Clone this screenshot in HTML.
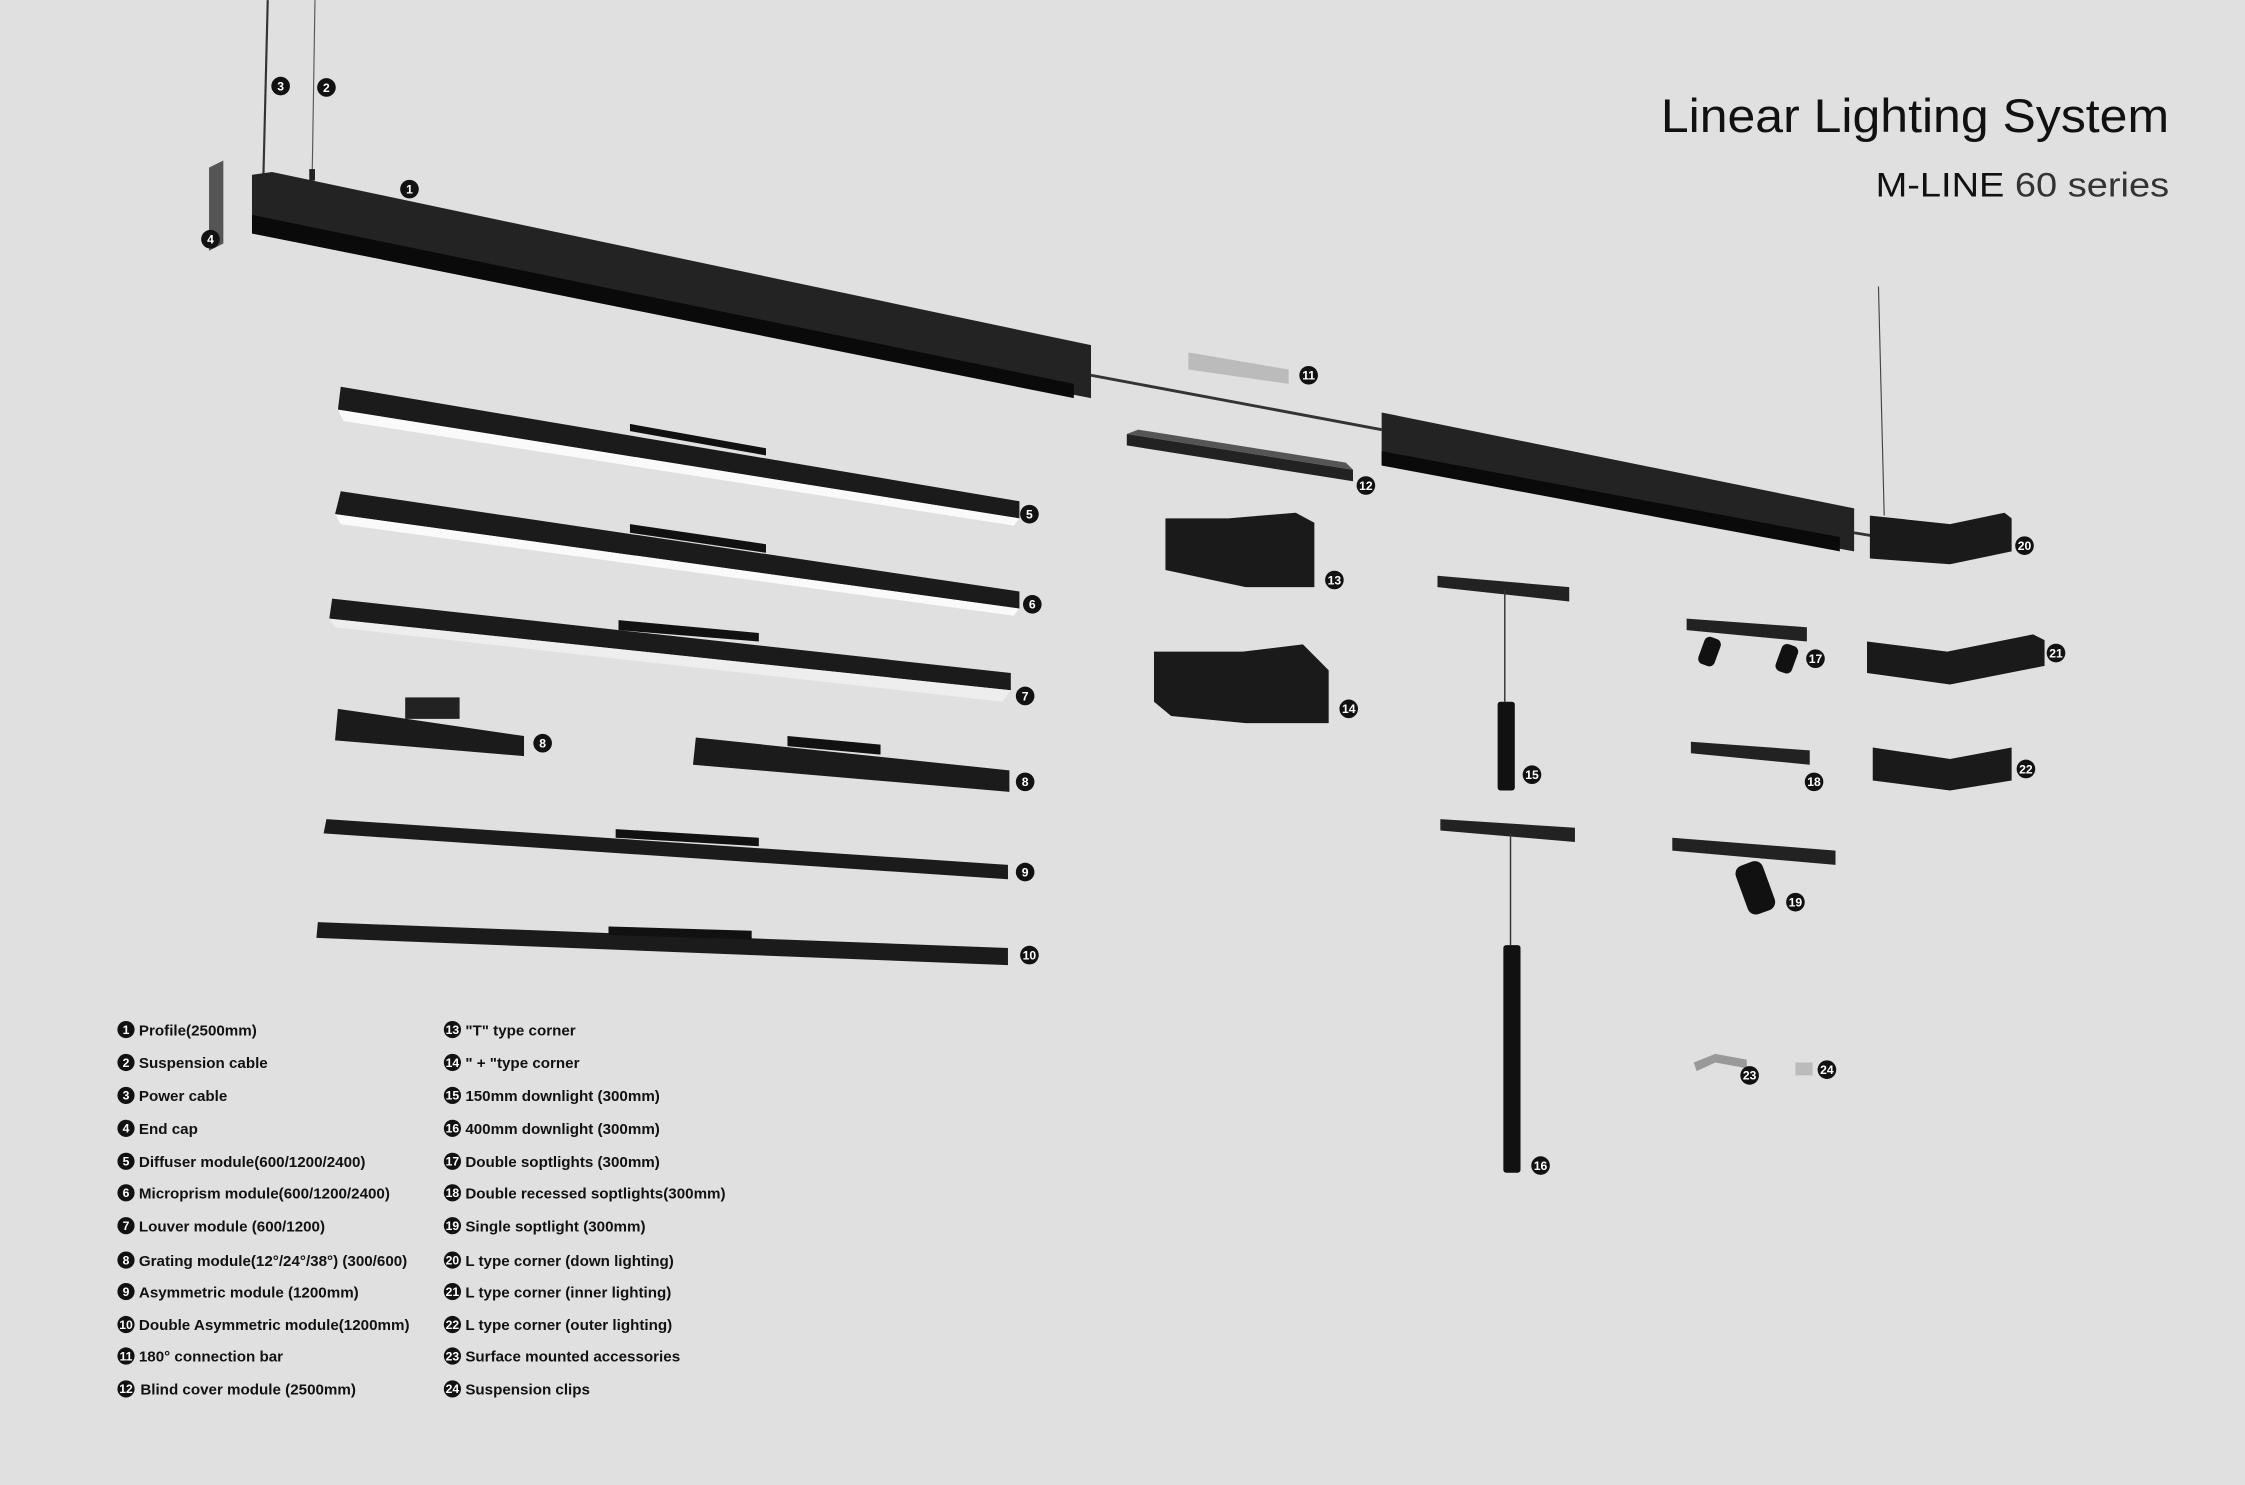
<!DOCTYPE html>
<html><head><meta charset="utf-8"><style>
html,body{margin:0;padding:0;background:#dfe0df;}
svg{display:block;}
text{font-family:"Liberation Sans",sans-serif;}
.b{fill:#111;}
.n{fill:#fff;font-size:8.5px;font-weight:bold;text-anchor:middle;}
.l{fill:#111;font-size:10.6px;font-weight:bold;}
</style></head><body>
<svg width="2245" height="1485" viewBox="0 0 1568 1037" xmlns="http://www.w3.org/2000/svg">
<rect width="1568" height="1037" fill="#dfe0df"/>
<text x="1515" y="92" font-size="33" text-anchor="end" fill="#111" textLength="355" lengthAdjust="spacingAndGlyphs">Linear Lighting System</text>
<text x="1515" y="137" font-size="24" text-anchor="end" fill="#111" textLength="205" lengthAdjust="spacingAndGlyphs"><tspan>M-LINE</tspan><tspan fill="#333"> 60 series</tspan></text>

<line x1="187" y1="0" x2="184" y2="122" stroke="#333" stroke-width="1.5"/>
<line x1="220" y1="0" x2="218" y2="125" stroke="#555" stroke-width="0.8"/>
<rect x="216" y="118" width="4" height="8" fill="#222"/>
<polygon points="146,117 156,112 156,170 146,175" fill="#555"/>
<polygon points="176,122 190,120 762,241 762,278 176,163" fill="#232323"/>
<polygon points="176,150 750,268 750,278 176,163" fill="#0a0a0a"/>
<line x1="762" y1="262" x2="965" y2="300" stroke="#333" stroke-width="2"/>
<polygon points="965,288 1295,355 1295,385 965,325" fill="#232323"/>
<polygon points="965,315 1285,375 1285,385 965,325" fill="#0a0a0a"/>
<line x1="1295" y1="372" x2="1307" y2="374" stroke="#333" stroke-width="2"/>
<line x1="1312" y1="200" x2="1316" y2="360" stroke="#444" stroke-width="0.8"/>
<polygon points="830,246 900,258 900,268 830,258" fill="#bbb"/>
<polygon points="787,303 945,328 945,336 787,311" fill="#222"/>
<polygon points="795,300 940,323 945,328 787,303" fill="#555"/>

<polygon points="238,270 712,350 712,362 236,286" fill="#1b1b1b"/>
<polygon points="236,286 712,362 708,367 240,294" fill="#fafafa"/>
<polygon points="440,296 535,313 535,318 440,301" fill="#111"/>
<polygon points="238,343 712,413 712,425 234,359" fill="#1b1b1b"/>
<polygon points="234,359 712,425 708,430 238,366" fill="#fafafa"/>
<polygon points="440,366 535,380 535,386 440,372" fill="#111"/>
<polygon points="232,418 706,470 706,482 230,432" fill="#1b1b1b"/>
<polygon points="230,432 706,482 700,490 234,438" fill="#eee"/>
<polygon points="432,433 530,442 530,448 432,440" fill="#111"/>
<polygon points="236,495 366,514 366,528 234,517" fill="#1b1b1b"/>
<rect x="283" y="487" width="38" height="15" fill="#222"/>
<polygon points="486,515 705,538 705,553 484,534" fill="#1b1b1b"/>
<polygon points="550,514 615,520 615,527 550,521" fill="#111"/>
<polygon points="228,572 704,604 704,614 226,582" fill="#1b1b1b"/>
<polygon points="430,579 530,585 530,591 430,585" fill="#111"/>
<polygon points="222,644 704,662 704,674 221,655" fill="#1b1b1b"/>
<polygon points="425,647 525,650 525,656 425,653" fill="#111"/>

<polygon points="814,362 858,362 905,358 918,365 918,410 870,410 814,398" fill="#1a1a1a"/>
<polygon points="806,455 868,455 910,450 928,468 928,505 870,505 818,500 806,490" fill="#1a1a1a"/>
<polygon points="1004,402 1096,410 1096,420 1004,410" fill="#222"/>
<line x1="1051" y1="412" x2="1051" y2="490" stroke="#333" stroke-width="1"/>
<rect x="1046" y="490" width="12" height="62" rx="2" fill="#111"/>
<polygon points="1006,572 1100,578 1100,588 1006,580" fill="#222"/>
<line x1="1055" y1="582" x2="1055" y2="660" stroke="#333" stroke-width="1"/>
<rect x="1050" y="660" width="12" height="159" rx="2" fill="#111"/>
<polygon points="1178,432 1262,438 1262,448 1178,440" fill="#222"/>
<rect x="1188" y="445" width="12" height="20" rx="4" fill="#111" transform="rotate(20 1194 455)"/>
<rect x="1242" y="450" width="12" height="20" rx="4" fill="#111" transform="rotate(20 1248 460)"/>
<polygon points="1181,518 1264,524 1264,534 1181,526" fill="#222"/>
<polygon points="1168,585 1282,594 1282,604 1168,594" fill="#222"/>
<rect x="1216" y="602" width="20" height="36" rx="6" fill="#111" transform="rotate(-20 1226 620)"/>
<polygon points="1306,360 1362,366 1400,358 1405,362 1405,385 1362,394 1306,390" fill="#1a1a1a"/>
<polygon points="1304,448 1360,455 1420,443 1428,447 1428,465 1362,478 1304,470" fill="#1a1a1a"/>
<polygon points="1308,522 1362,530 1405,522 1405,545 1362,552 1308,545" fill="#1a1a1a"/>
<polygon points="1183,742 1198,736 1220,740 1220,746 1198,742 1185,748" fill="#999"/>
<rect x="1254" y="742" width="12" height="9" fill="#bbb"/>

<g>
<circle cx="196" cy="60" r="6.5" class="b"/><text x="196" y="63" class="n">3</text>
<circle cx="228" cy="61" r="6.5" class="b"/><text x="228" y="64" class="n">2</text>
<circle cx="286" cy="132" r="6.5" class="b"/><text x="286" y="135" class="n">1</text>
<circle cx="147" cy="167" r="6.5" class="b"/><text x="147" y="170" class="n">4</text>
<circle cx="914" cy="262" r="6.5" class="b"/><text x="914" y="265" class="n">11</text>
<circle cx="954" cy="339" r="6.5" class="b"/><text x="954" y="342" class="n">12</text>
<circle cx="719" cy="359" r="6.5" class="b"/><text x="719" y="362" class="n">5</text>
<circle cx="721" cy="422" r="6.5" class="b"/><text x="721" y="425" class="n">6</text>
<circle cx="716" cy="486" r="6.5" class="b"/><text x="716" y="489" class="n">7</text>
<circle cx="379" cy="519" r="6.5" class="b"/><text x="379" y="522" class="n">8</text>
<circle cx="716" cy="546" r="6.5" class="b"/><text x="716" y="549" class="n">8</text>
<circle cx="716" cy="609" r="6.5" class="b"/><text x="716" y="612" class="n">9</text>
<circle cx="719" cy="667" r="6.5" class="b"/><text x="719" y="670" class="n">10</text>
<circle cx="932" cy="405" r="6.5" class="b"/><text x="932" y="408" class="n">13</text>
<circle cx="942" cy="495" r="6.5" class="b"/><text x="942" y="498" class="n">14</text>
<circle cx="1070" cy="541" r="6.5" class="b"/><text x="1070" y="544" class="n">15</text>
<circle cx="1076" cy="814" r="6.5" class="b"/><text x="1076" y="817" class="n">16</text>
<circle cx="1268" cy="460" r="6.5" class="b"/><text x="1268" y="463" class="n">17</text>
<circle cx="1267" cy="546" r="6.5" class="b"/><text x="1267" y="549" class="n">18</text>
<circle cx="1254" cy="630" r="6.5" class="b"/><text x="1254" y="633" class="n">19</text>
<circle cx="1414" cy="381" r="6.5" class="b"/><text x="1414" y="384" class="n">20</text>
<circle cx="1436" cy="456" r="6.5" class="b"/><text x="1436" y="459" class="n">21</text>
<circle cx="1415" cy="537" r="6.5" class="b"/><text x="1415" y="540" class="n">22</text>
<circle cx="1222" cy="751" r="6.5" class="b"/><text x="1222" y="754" class="n">23</text>
<circle cx="1276" cy="747" r="6.5" class="b"/><text x="1276" y="750" class="n">24</text>
</g>

<g>
<circle cx="88" cy="719" r="6" class="b"/><text x="88" y="722" class="n">1</text><text x="97" y="723" class="l">Profile(2500mm)</text>
<circle cx="88" cy="742" r="6" class="b"/><text x="88" y="745" class="n">2</text><text x="97" y="746" class="l">Suspension cable</text>
<circle cx="88" cy="765" r="6" class="b"/><text x="88" y="768" class="n">3</text><text x="97" y="769" class="l">Power cable</text>
<circle cx="88" cy="788" r="6" class="b"/><text x="88" y="791" class="n">4</text><text x="97" y="792" class="l">End cap</text>
<circle cx="88" cy="811" r="6" class="b"/><text x="88" y="814" class="n">5</text><text x="97" y="815" class="l">Diffuser module(600/1200/2400)</text>
<circle cx="88" cy="833" r="6" class="b"/><text x="88" y="836" class="n">6</text><text x="97" y="837" class="l">Microprism module(600/1200/2400)</text>
<circle cx="88" cy="856" r="6" class="b"/><text x="88" y="859" class="n">7</text><text x="97" y="860" class="l">Louver module  (600/1200)</text>
<circle cx="88" cy="880" r="6" class="b"/><text x="88" y="883" class="n">8</text><text x="97" y="884" class="l">Grating module(12°/24°/38°) (300/600)</text>
<circle cx="88" cy="902" r="6" class="b"/><text x="88" y="905" class="n">9</text><text x="97" y="906" class="l">Asymmetric module (1200mm)</text>
<circle cx="88" cy="925" r="6" class="b"/><text x="88" y="928" class="n">10</text><text x="97" y="929" class="l">Double Asymmetric module(1200mm)</text>
<circle cx="88" cy="947" r="6" class="b"/><text x="88" y="950" class="n">11</text><text x="97" y="951" class="l">180° connection bar</text>
<circle cx="88" cy="970" r="6" class="b"/><text x="88" y="973" class="n">12</text><text x="98" y="974" class="l">Blind cover module  (2500mm)</text>

<circle cx="316" cy="719" r="6" class="b"/><text x="316" y="722" class="n">13</text><text x="325" y="723" class="l">"T" type corner</text>
<circle cx="316" cy="742" r="6" class="b"/><text x="316" y="745" class="n">14</text><text x="325" y="746" class="l">" + "type corner</text>
<circle cx="316" cy="765" r="6" class="b"/><text x="316" y="768" class="n">15</text><text x="325" y="769" class="l">150mm downlight  (300mm)</text>
<circle cx="316" cy="788" r="6" class="b"/><text x="316" y="791" class="n">16</text><text x="325" y="792" class="l">400mm downlight  (300mm)</text>
<circle cx="316" cy="811" r="6" class="b"/><text x="316" y="814" class="n">17</text><text x="325" y="815" class="l">Double soptlights  (300mm)</text>
<circle cx="316" cy="833" r="6" class="b"/><text x="316" y="836" class="n">18</text><text x="325" y="837" class="l">Double recessed soptlights(300mm)</text>
<circle cx="316" cy="856" r="6" class="b"/><text x="316" y="859" class="n">19</text><text x="325" y="860" class="l">Single soptlight  (300mm)</text>
<circle cx="316" cy="880" r="6" class="b"/><text x="316" y="883" class="n">20</text><text x="325" y="884" class="l">L type corner  (down lighting)</text>
<circle cx="316" cy="902" r="6" class="b"/><text x="316" y="905" class="n">21</text><text x="325" y="906" class="l">L type corner  (inner lighting)</text>
<circle cx="316" cy="925" r="6" class="b"/><text x="316" y="928" class="n">22</text><text x="325" y="929" class="l">L type corner  (outer lighting)</text>
<circle cx="316" cy="947" r="6" class="b"/><text x="316" y="950" class="n">23</text><text x="325" y="951" class="l">Surface mounted accessories</text>
<circle cx="316" cy="970" r="6" class="b"/><text x="316" y="973" class="n">24</text><text x="325" y="974" class="l">Suspension clips</text>
</g>
</svg>
</body></html>
